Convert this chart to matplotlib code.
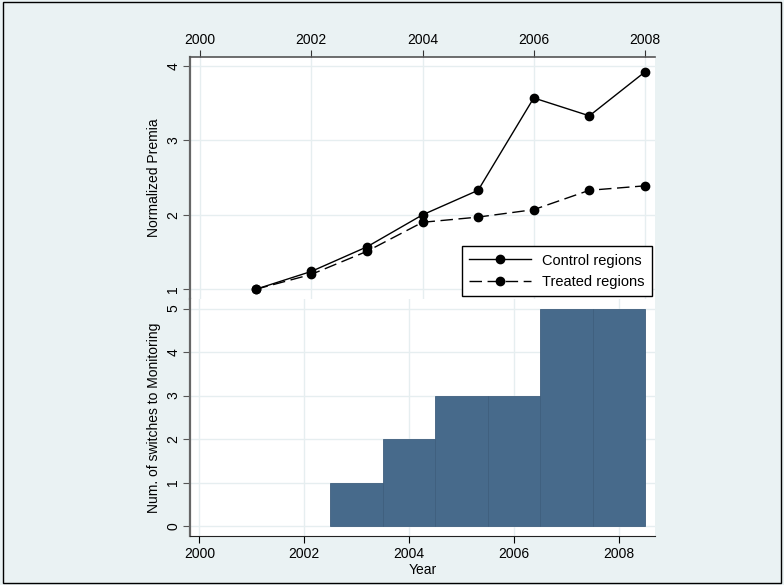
import matplotlib.pyplot as plt
from matplotlib.patches import Rectangle

plt.rcParams['font.family'] = ['Liberation Sans', 'DejaVu Sans']

years = [2001, 2002, 2003, 2004, 2005, 2006, 2007, 2008]
control = [1.0, 1.24, 1.57, 2.0, 2.33, 3.57, 3.33, 3.92]
treated = [1.0, 1.20, 1.51, 1.90, 1.97, 2.07, 2.33, 2.39]

bar_years = [2003, 2004, 2005, 2006, 2007, 2008]
switches = [1, 2, 3, 3, 5, 5]

xticks = [2000, 2002, 2004, 2006, 2008]

BG = '#eaf2f3'
GRID = '#e6eef0'
BAR = '#476a8b'

fig = plt.figure(figsize=(7.84, 5.85), dpi=100, facecolor=BG)
fig.patches.append(Rectangle((0.004, 0.004), 0.992, 0.992, transform=fig.transFigure,
                             fill=False, edgecolor='black', linewidth=1))

# panel superieur
ax1 = fig.add_axes([190/784, 1 - 299/585, 465/784, (299 - 57)/585])
ax1.plot(years, control, '-', color='black', lw=1, marker='o', ms=6, label='Control regions')
ax1.plot(years, treated, '--', color='black', lw=1, marker='o', ms=6, dashes=(9, 4),
         label='Treated regions')
ax1.set_xlim(1999.82, 2008.18)
ax1.set_ylim(0.87, 4.12)
ax1.set_yticks([1, 2, 3, 4])
ax1.set_xticks(xticks)
ax1.xaxis.tick_top()
ax1.tick_params(axis='x', top=True, bottom=False, labeltop=True, labelbottom=False,
                labelsize=10, length=5, pad=2, color='#333333')
ax1.tick_params(axis='y', labelsize=10, length=5, pad=2, labelrotation=90, color='#555555')
for lab in ax1.get_yticklabels():
    lab.set_va('center')
ax1.set_ylabel('Normalized Premia', fontsize=10, labelpad=4)
ax1.grid(True, color=GRID, lw=1)
ax1.set_axisbelow(True)
ax1.spines['right'].set_visible(False)
ax1.spines['bottom'].set_visible(False)
ax1.spines['left'].set_color('#666666')
ax1.spines['left'].set_linewidth(1.6)
ax1.spines['top'].set_color('#555555')
ax1.spines['top'].set_linewidth(1.2)
leg = ax1.legend(loc='lower right', fontsize=10.5, frameon=True, fancybox=False,
                 edgecolor='black', borderpad=0.5, handlelength=4.2, borderaxespad=0.2,
                 framealpha=1)
leg.get_frame().set_linewidth(1)

# panel inferieur
ax2 = fig.add_axes([190/784, 1 - 536/585, 465/784, (536 - 299)/585])
ax2.bar(bar_years, switches, width=1, color=BAR, edgecolor='#3f5f7e', linewidth=0.6)
ax2.set_xlim(1999.82, 2008.69)
ax2.set_ylim(-0.23, 5.22)
ax2.set_yticks([0, 1, 2, 3, 4, 5])
ax2.set_xticks(xticks)
ax2.tick_params(axis='x', labelsize=10, length=5, pad=3)
ax2.tick_params(axis='y', labelsize=10, length=5, pad=2, labelrotation=90, color='#555555')
for lab in ax2.get_yticklabels():
    lab.set_va('center')
ax2.set_ylabel('Num. of switches to Monitoring', fontsize=10, labelpad=4)
ax2.set_xlabel('Year', fontsize=10, labelpad=1)
ax2.grid(True, color=GRID, lw=1)
ax2.set_axisbelow(True)
ax2.spines['right'].set_visible(False)
ax2.spines['top'].set_visible(False)
ax2.spines['left'].set_color('#666666')
ax2.spines['left'].set_linewidth(1.6)
ax2.spines['bottom'].set_color('#222222')

fig.savefig('out.png', dpi=100, facecolor=BG)
